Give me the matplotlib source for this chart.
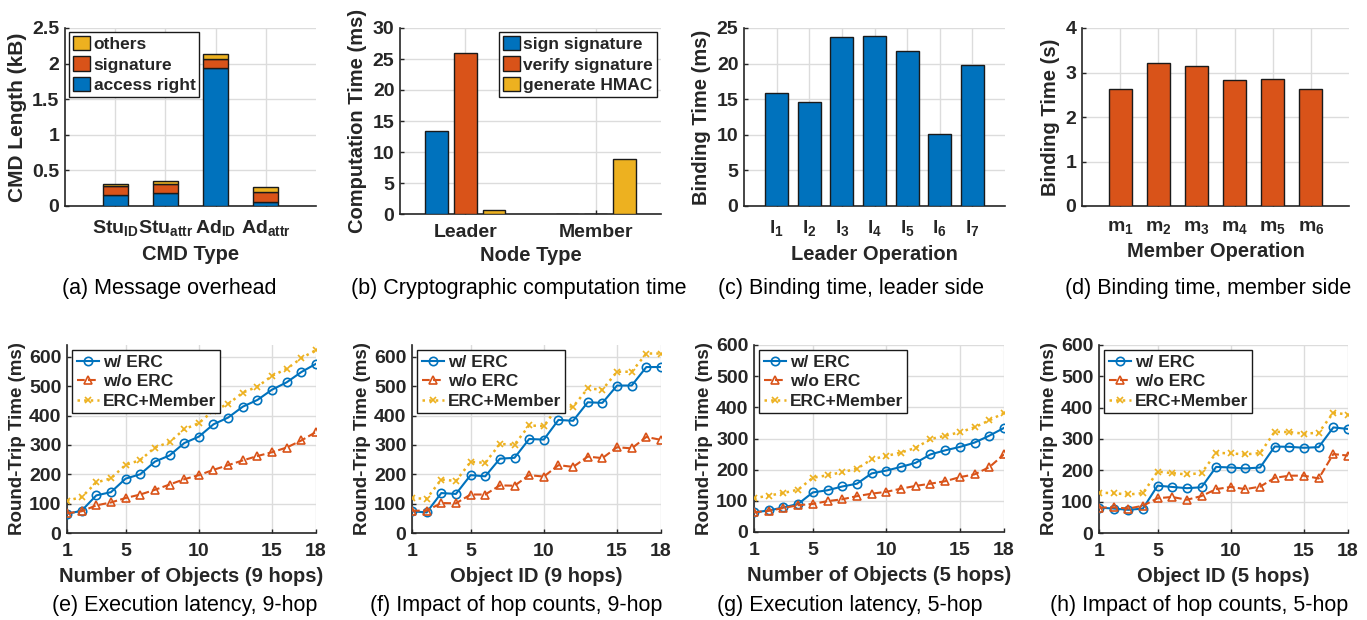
import numpy as np
import matplotlib
matplotlib.use('Agg')
import matplotlib.pyplot as plt
from matplotlib.ticker import FuncFormatter

## Data
cmd_types = [r'Stu$_{ID}$', r'Stu$_{attr}$', r'Ad$_{ID}$', r'Ad$_{attr}$']
cmd_access = [0.15, 0.18, 1.94, 0.06]
cmd_signature = [0.13, 0.13, 0.12, 0.13]
cmd_others = [0.03, 0.04, 0.07, 0.07]

node_types = ['Leader', 'Member']
sign_sig = [13.4, 0.05]
verify_sig = [25.9, 0.05]
gen_hmac = [0.7, 8.8]

leader_ops = [r'l$_{1}$', r'l$_{2}$', r'l$_{3}$', r'l$_{4}$', r'l$_{5}$', r'l$_{6}$', r'l$_{7}$']
leader_bind = [15.9, 14.6, 23.8, 23.9, 21.7, 10.1, 19.8]

member_ops = [r'm$_{1}$', r'm$_{2}$', r'm$_{3}$', r'm$_{4}$', r'm$_{5}$', r'm$_{6}$']
member_bind = [2.64, 3.21, 3.14, 2.84, 2.85, 2.64]

objects = list(range(1, 19))

e_erc = [65, 76, 128, 139, 185, 200, 243, 264, 306, 328, 370, 393, 430, 453, 488, 513, 548, 576]
e_noerc = [67, 74, 94, 104, 119, 131, 147, 165, 183, 197, 215, 231, 247, 262, 275, 291, 315, 344]
e_member = [110, 122, 172, 186, 232, 248, 291, 309, 353, 374, 417, 439, 478, 498, 535, 559, 595, 623]

f_erc = [74, 70, 136, 133, 197, 193, 253, 256, 320, 318, 385, 382, 445, 443, 502, 502, 565, 565]
f_noerc = [76, 76, 102, 101, 131, 131, 162, 161, 197, 192, 231, 225, 260, 255, 292, 288, 327, 317]
f_member = [118, 117, 182, 177, 242, 239, 303, 301, 366, 364, 432, 430, 492, 488, 549, 549, 611, 611]

g_erc = [63, 69, 79, 90, 127, 134, 146, 155, 188, 197, 209, 222, 249, 262, 273, 287, 309, 334]
g_noerc = [63, 68, 77, 86, 90, 99, 105, 115, 123, 129, 139, 148, 155, 163, 176, 185, 208, 249]
g_member = [108, 117, 125, 136, 174, 182, 192, 203, 233, 244, 255, 270, 298, 309, 320, 336, 358, 382]

h_erc = [81, 78, 74, 78, 151, 147, 143, 146, 211, 209, 206, 209, 276, 275, 272, 274, 337, 332]
h_noerc = [81, 82, 78, 87, 111, 115, 106, 118, 140, 147, 140, 148, 176, 183, 183, 174, 252, 247]
h_member = [129, 127, 123, 127, 196, 191, 187, 191, 256, 254, 251, 255, 323, 322, 317, 320, 384, 378]

## Style
BLUE = '#0072BD'
ORANGE = '#D95319'
YELLOW = '#EDB120'
TXT = '#262626'

plt.rcParams.update({
    'font.family': ['Liberation Sans', 'DejaVu Sans'],
    'font.weight': 'bold',
    'font.size': 13,
    'mathtext.fontset': 'custom',
    'mathtext.rm': 'Liberation Sans:bold',
    'mathtext.bf': 'Liberation Sans:bold',
    'mathtext.it': 'Liberation Sans:bold',
    'mathtext.default': 'bf',
    'text.color': TXT,
    'axes.labelcolor': TXT,
    'xtick.color': TXT,
    'ytick.color': TXT,
    'axes.labelweight': 'bold',
})

W, H = 1367, 620
fig = plt.figure(figsize=(W / 100, H / 100), dpi=100)

def make_axes(l, t, r, b, xpad=9) :
    ax = fig.add_axes([l / W, 1 - b / H, (r - l) / W, (b - t) / H])
    ax.spines['top'].set_visible(False)
    ax.spines['right'].set_visible(False)
    ax.spines['left'].set_color(TXT)
    ax.spines['bottom'].set_color(TXT)
    ax.spines['left'].set_linewidth(1.2)
    ax.spines['bottom'].set_linewidth(1.2)
    ax.grid(True, color='#DCDCDC', linewidth=1.0, zorder=0)
    ax.set_axisbelow(True)
    ax.tick_params(direction='in', length=3, width=1, labelsize=14, pad=4)
    ax.tick_params(axis='x', pad=xpad)
    ax.yaxis.set_major_formatter(FuncFormatter(lambda v, p: '%g' % v))
    return ax

bar_kw = dict(edgecolor='#1a1a1a', linewidth=1.0, zorder=3)
leg_kw = dict(fontsize=12.5, fancybox=False, edgecolor='#1a1a1a', framealpha=1,
              handlelength=1.0, handleheight=0.9, handletextpad=0.2, borderpad=0.2,
              labelspacing=0.25, borderaxespad=0.25)

## (a) Message overhead
ax = make_axes(65, 28, 316, 206)
xa = np.arange(1, len(cmd_types) + 1)
b1 = ax.bar(xa, cmd_access, 0.5, color=BLUE, **bar_kw)
b2 = ax.bar(xa, cmd_signature, 0.5, bottom=cmd_access, color=ORANGE, **bar_kw)
bot = np.array(cmd_access) + np.array(cmd_signature)
b3 = ax.bar(xa, cmd_others, 0.5, bottom=bot, color=YELLOW, **bar_kw)
ax.set_xlim(0, 5)
ax.set_ylim(0, 2.5)
ax.set_xticks(xa)
ax.set_xticklabels(cmd_types)
ax.set_yticks([0, 0.5, 1, 1.5, 2, 2.5])
ax.set_xlabel('CMD Type', fontsize=14.5, labelpad=5)
ax.set_ylabel('CMD Length (kB)', fontsize=15, labelpad=4)
ax.legend([b3, b2, b1], ['others', 'signature', 'access right'], loc='upper left', **leg_kw)

## (b) Cryptographic computation time
ax = make_axes(400, 28, 661, 214, xpad=7)
xb = np.arange(1, len(node_types) + 1)
c1 = ax.bar(xb - 0.22, sign_sig, 0.175, color=BLUE, **bar_kw)
c2 = ax.bar(xb, verify_sig, 0.175, color=ORANGE, **bar_kw)
c3 = ax.bar(xb + 0.22, gen_hmac, 0.175, color=YELLOW, **bar_kw)
ax.set_xlim(0.5, 2.5)
ax.set_ylim(0, 30)
ax.set_yticks(range(0, 31, 5))
ax.set_xticks(xb)
ax.set_xticklabels(node_types)
ax.set_xlabel('Node Type', fontsize=14.5, labelpad=4)
ax.set_ylabel('Computation Time (ms)', fontsize=14.5, labelpad=4)
ax.legend([c1, c2, c3], ['sign signature', 'verify signature', 'generate HMAC'],
          loc='upper right', **leg_kw)

## (c) Binding time, leader side
ax = make_axes(744, 28, 1005, 206)
xc = np.arange(1, len(leader_ops) + 1)
ax.bar(xc, leader_bind, 0.7, color=BLUE, **bar_kw)
ax.set_xlim(0, 8)
ax.set_ylim(0, 25)
ax.set_yticks(range(0, 26, 5))
ax.set_xticks(xc)
ax.set_xticklabels(leader_ops)
ax.set_xlabel('Leader Operation', fontsize=14.5, labelpad=5)
ax.set_ylabel('Binding Time (ms)', fontsize=14.5, labelpad=4)

## (d) Binding time, member side
ax = make_axes(1082, 28, 1349, 206)
xd = np.arange(1, len(member_ops) + 1)
ax.bar(xd, member_bind, 0.6, color=ORANGE, **bar_kw)
ax.set_xlim(0, 7)
ax.set_ylim(0, 4)
ax.set_xticks(xd)
ax.set_xticklabels(member_ops)
ax.set_xlabel('Member Operation', fontsize=14.5, labelpad=5)
ax.set_ylabel('Binding Time (s)', fontsize=14.5, labelpad=4)

## Line panels
def line_panel(box, erc, noerc, member, xlabel, ymax) :
    ax = make_axes(*box, xpad=7)
    ax.plot(objects, erc, color=BLUE, linestyle='-', linewidth=1.5, marker='o',
            markersize=6, markerfacecolor='none', markeredgewidth=1.2, label='w/ ERC', zorder=4)
    ax.plot(objects, noerc, color=ORANGE, linestyle='--', linewidth=1.5, marker='^',
            markersize=6, markerfacecolor='none', markeredgewidth=1.2, label='w/o ERC', zorder=4)
    ax.plot(objects, member, color=YELLOW, linestyle=':', linewidth=1.8, marker='x',
            markersize=4, markeredgewidth=1.2, label='ERC+Member', zorder=4)
    ax.set_xlim(1, 18)
    ax.set_ylim(0, ymax)
    ax.set_xticks([1, 5, 10, 15, 18])
    ax.set_yticks(range(0, 601, 100))
    ax.set_xlabel(xlabel, fontsize=14.5, labelpad=5)
    ax.set_ylabel('Round-Trip Time (ms)', fontsize=13.5, labelpad=2)
    ax.legend(loc='upper left', fontsize=12.5, fancybox=False, edgecolor='#1a1a1a',
              framealpha=1, handlelength=1.3, handletextpad=0.2, borderpad=0.25,
              labelspacing=0.25, borderaxespad=0.3)
    return ax

line_panel((67, 345, 316, 533), e_erc, e_noerc, e_member, 'Number of Objects (9 hops)', 640)
line_panel((412, 345, 661, 533), f_erc, f_noerc, f_member, 'Object ID (9 hops)', 640)
line_panel((754, 345, 1004, 532), g_erc, g_noerc, g_member, 'Number of Objects (5 hops)', 600)
line_panel((1099, 345, 1348, 533), h_erc, h_noerc, h_member, 'Object ID (5 hops)', 600)

## Captions
captions_top = [('(a) Message overhead', 169), ('(b) Cryptographic computation time', 519),
                ('(c) Binding time, leader side', 851), ('(d) Binding time, member side', 1208)]
captions_bot = [('(e) Execution latency, 9-hop', 185), ('(f) Impact of hop counts, 9-hop', 516),
                ('(g) Execution latency, 5-hop', 850), ('(h) Impact of hop counts, 5-hop', 1199)]
for text, cx in captions_top :
    fig.text(cx / W, 1 - 288 / H, text, ha='center', va='center', fontsize=15.5,
             fontweight='normal', color='black')
for text, cx in captions_bot :
    fig.text(cx / W, 1 - 606 / H, text, ha='center', va='center', fontsize=15.5,
             fontweight='normal', color='black')

fig.savefig('out.png', dpi=100)
